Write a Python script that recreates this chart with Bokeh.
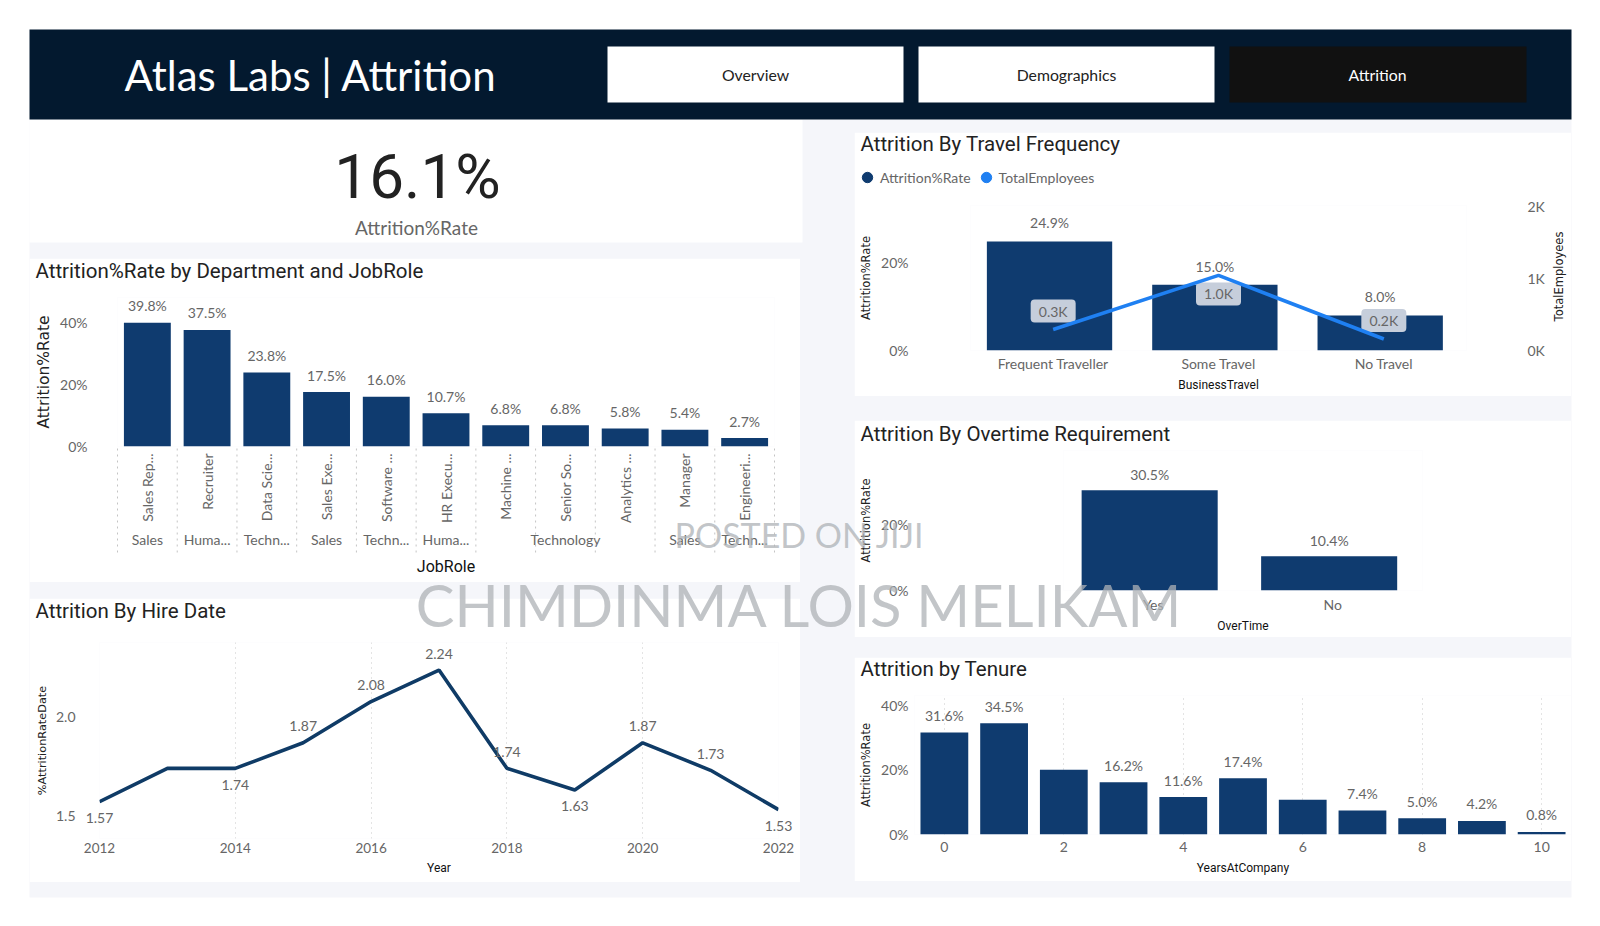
import math

from bokeh.embed import file_html
from bokeh.resources import INLINE
from bokeh.plotting import figure
from bokeh.layouts import column
from bokeh.core.properties import value
from bokeh.models import (ColumnDataSource, FactorRange, Range1d, LinearAxis, FixedTicker,
                          PrintfTickFormatter, Legend, LegendItem)
from bokeh.transform import dodge

# ---- data ----
dashboard_title = "Atlas Labs | Attrition"
nav_buttons = ["Overview", "Demographics", "Attrition"]
kpi_value = "16.1%"
kpi_label = "Attrition%Rate"
chart_titles = ["Attrition%Rate by Department and JobRole", "Attrition By Hire Date",
                "Attrition By Travel Frequency", "Attrition By Overtime Requirement", "Attrition by Tenure"]
legend_labels = ["Attrition%Rate", "TotalEmployees"]
right_axis_title = "TotalEmployees"

job_roles = ["Sales Rep...", "Recruiter", "Data Scie...", "Sales Exe...", "Software ...", "HR Execu...",
             "Machine ...", "Senior So...", "Analytics ...", "Manager", "Engineeri..."]
role_departments = ["Sales", "Huma...", "Techn...", "Sales", "Techn...", "Huma...",
                    "", "Technology", "", "Sales", "Techn..."]
role_rates = [39.8, 37.5, 23.8, 17.5, 16.0, 10.7, 6.8, 6.8, 5.8, 5.4, 2.7]
role_labels = ["39.8%", "37.5%", "23.8%", "17.5%", "16.0%", "10.7%", "6.8%", "6.8%", "5.8%", "5.4%", "2.7%"]

hire_years = [2012, 2013, 2014, 2015, 2016, 2017, 2018, 2019, 2020, 2021, 2022]
hire_rates = [1.57, 1.74, 1.74, 1.87, 2.08, 2.24, 1.74, 1.63, 1.87, 1.73, 1.53]
hire_labels = ["1.57", "", "1.74", "1.87", "2.08", "2.24", "1.74", "1.63", "1.87", "1.73", "1.53"]
hire_label_side = [1, 1, 1, -1, -1, -1, -1, 1, -1, -1, 1]

travel_types = ["Frequent Traveller", "Some Travel", "No Travel"]
travel_rates = [24.9, 15.0, 8.0]
travel_rate_labels = ["24.9%", "15.0%", "8.0%"]
travel_employees_k = [0.29, 1.04, 0.16]
travel_emp_labels = ["0.3K", "1.0K", "0.2K"]
travel_emp_side = [-1, 1, -1]

overtime_types = ["Yes", "No"]
overtime_rates = [30.5, 10.4]
overtime_labels = ["30.5%", "10.4%"]

tenure_years = [0, 1, 2, 3, 4, 5, 6, 7, 8, 9, 10]
tenure_rates = [31.6, 34.5, 20.1, 16.2, 11.6, 17.4, 10.8, 7.4, 5.0, 4.2, 0.8]
tenure_labels = ["31.6%", "34.5%", "", "16.2%", "11.6%", "17.4%", "", "7.4%", "5.0%", "4.2%", "0.8%"]

watermarks = ["POSTED ON JIJI", "CHIMDINMA LOIS MELIKAM"]

# ---- style ----
BAR = "#0f3b6f"
LINE = "#0f3b66"
BRIGHT = "#1f80f2"
TICK = "#666666"
DARK = "#222222"
PANEL = "#f5f6fa"
NAVY = "#03192f"
BODY = "Lato"
HEAD = "Roboto"
AXT = "DejaVu Sans"


def bare(fig):
    fig.frame_align = False
    fig.outline_line_color = None
    fig.grid.grid_line_color = None
    fig.xaxis.visible = False
    fig.yaxis.visible = False


def style_axis(ax, label_std=7):
    ax.axis_line_color = None
    ax.major_tick_line_color = None
    ax.minor_tick_line_color = None
    ax.major_tick_out = 0
    ax.major_label_text_color = TICK
    ax.major_label_text_font = BODY
    ax.major_label_text_font_size = "14px"
    ax.axis_label_text_font_style = "normal"
    ax.major_label_standoff = label_std


def chart(card, frame, x_range, y_range):
    cx0, cy0, cx1, cy1 = card
    fx0, fy0, fx1, fy1 = frame
    p = figure(width=cx1 - cx0, height=cy1 - cy0, x_range=x_range, y_range=y_range,
               output_backend="svg", toolbar_location=None,
               min_border_left=fx0 - cx0, min_border_right=cx1 - fx1,
               min_border_top=fy0 - cy0, min_border_bottom=cy1 - fy1)
    p.frame_align = False
    p.outline_line_color = None
    p.background_fill_color = "white"
    p.border_fill_color = "white"
    p.grid.grid_line_color = None
    return p


def y_title(ax, text, size, std):
    ax.axis_label = text
    ax.axis_label_text_font = AXT
    ax.axis_label_text_font_size = size
    ax.axis_label_text_color = DARK
    ax.axis_label_standoff = std


def x_title(ax, text, size, std):
    ax.axis_label = text
    ax.axis_label_text_font = HEAD
    ax.axis_label_text_font_size = size
    ax.axis_label_text_color = "#111111"
    ax.axis_label_standoff = std


def value_text(p, src, x, y, text, offset, **kw):
    return p.text(x=x, y=y, text=text, source=src, text_align="center", text_baseline="middle",
                  y_offset=offset, text_font=value(BODY), text_font_size=value("14px"), text_color=TICK,
                  level="annotation", **kw)


# ---- backdrop ----
bg = figure(width=1584, height=910, x_range=Range1d(8, 1592), y_range=Range1d(918, 8),
            output_backend="svg", toolbar_location=None, min_border=0)
bare(bg)
bg.background_fill_color = "white"
bg.border_fill_color = "white"
bg.quad(left=[29], right=[1571], top=[119], bottom=[897], color=PANEL, line_width=0)
bg.quad(left=[29], right=[802], top=[119], bottom=[242], color="white", line_width=0)
bg.quad(left=[29], right=[1571], top=[29], bottom=[119], color=NAVY, line_width=0)
bg.quad(left=[607, 918, 1229], right=[903, 1214, 1526], top=[46] * 3, bottom=[102] * 3,
        color=["white", "white", "#111111"], line_width=0)
bg.text(x=[755, 1066, 1377], y=[74] * 3, text=nav_buttons, text_align="center", text_baseline="middle",
        text_font=value(BODY), text_font_size=value("15.8px"), text_color=[DARK, DARK, "white"])
bg.text(x=[124], y=[74], text=[dashboard_title], text_baseline="middle", text_font=value(BODY),
        text_font_size=value("42px"), text_color="white")
bg.text(x=[417], y=[176], text=[kpi_value], text_align="center", text_baseline="middle", text_font=value(HEAD),
        text_font_size=value("62px"), text_color=DARK)
bg.text(x=[416], y=[227], text=[kpi_label], text_align="center", text_baseline="middle", text_font=value(BODY),
        text_font_size=value("19px"), text_color=TICK)

# ---- department / role ----
fr = (117, 297, 774, 446)
ppv = 3.108
d = chart((29, 258, 800, 582), fr, FactorRange(factors=job_roles), Range1d(0, (fr[3] - fr[1]) / ppv))
ds = ColumnDataSource(dict(role=job_roles, rate=role_rates, lab=role_labels, dept=role_departments,
                           dy=[-(539 - 446) / ppv] * 11))
d.vbar(x="role", top="rate", bottom=0, width=0.785, source=ds, color=BAR, line_width=0)
value_text(d, ds, "role", "rate", "lab", -17)
value_text(d, ds, "role", "dy", "dept", 0)
bounds = list(range(len(job_roles) + 1))
d.segment(x0=bounds, x1=bounds, y0=[-2 / ppv] * 12, y1=[-107 / ppv] * 12, line_color="#c4c4c4",
          line_dash="dotted", line_width=1, level="annotation")
style_axis(d.yaxis[0], 30)
d.yaxis[0].ticker = FixedTicker(ticks=[0, 20, 40])
d.yaxis[0].formatter = PrintfTickFormatter(format="%d%%")
y_title(d.yaxis[0], "Attrition%Rate", "15.5px", 4)
style_axis(d.xaxis[0], 7)
d.xaxis[0].major_label_orientation = math.pi / 2
x_title(d.xaxis[0], "JobRole", "16px", 31)

# ---- hire date ----
fr = (99, 642, 778, 838)
ppv = 196.5
h = chart((29, 598, 800, 882), fr, Range1d(2012, 2022),
          Range1d(1.5 - (fr[3] - 815) / ppv, 1.5 + (815 - fr[1]) / ppv))
hs = ColumnDataSource(dict(year=hire_years, rate=hire_rates, lab=hire_labels,
                           off=[s * 16.5 for s in hire_label_side]))
h.line("year", "rate", source=hs, line_color=LINE, line_width=3.6)
value_text(h, hs, "year", "rate", "lab", "off")
style_axis(h.yaxis[0], 24)
h.yaxis[0].ticker = FixedTicker(ticks=[1.5, 2.0])
h.yaxis[0].formatter = PrintfTickFormatter(format="%.1f")
y_title(h.yaxis[0], "%AttritionRateDate", "11.3px", 4)
style_axis(h.xaxis[0], 4)
h.xaxis[0].major_label_text_font_size = "13.5px"
h.xaxis[0].ticker = FixedTicker(ticks=[2012, 2014, 2016, 2018, 2020, 2022])
h.xaxis[0].formatter = PrintfTickFormatter(format="%d")
x_title(h.xaxis[0], "Year", "12px", 5)
h.xgrid.grid_line_color = "#c8c8c8"
h.xgrid.grid_line_dash = [1, 4]
h.xgrid[0].ticker = FixedTicker(ticks=[2012, 2014, 2016, 2018, 2020, 2022])

# ---- travel ----
fr = (970, 205, 1466, 350)
ppv = 4.378
ppk = 72.2
t = chart((854, 132, 1571, 396), fr, FactorRange(factors=travel_types), Range1d(0, (fr[3] - fr[1]) / ppv))
t.extra_y_ranges = {"emp": Range1d(0, (fr[3] - fr[1]) / ppk)}
ts = ColumnDataSource(dict(cat=travel_types, rate=travel_rates, lab=travel_rate_labels,
                           emp=travel_employees_k, elab=travel_emp_labels,
                           ebox=[e - s * 18.5 / ppk for e, s in zip(travel_employees_k, travel_emp_side)],
                           eoff=[s * 18.5 for s in travel_emp_side]))
bar_x = dodge("cat", -0.022, range=t.x_range)
t.vbar(x=bar_x, top="rate", bottom=0, width=0.758, source=ts, color=BAR, line_width=0)
t.rect(x="cat", y="ebox", width=45, height=23, width_units="screen", height_units="screen", source=ts,
       y_range_name="emp", fill_color="#c6cedb", line_width=0, border_radius=4, level="annotation")
t.line("cat", "emp", source=ts, y_range_name="emp", line_color=BRIGHT, line_width=3.6, level="annotation")
value_text(t, ts, bar_x, "rate", "lab", -18.5)
value_text(t, ts, "cat", "emp", "elab", "eoff", y_range_name="emp")
style_axis(t.yaxis[0], 62)
t.yaxis[0].ticker = FixedTicker(ticks=[0, 20])
t.yaxis[0].formatter = PrintfTickFormatter(format="%d%%")
y_title(t.yaxis[0], "Attrition%Rate", "11.5px", 5)
right = LinearAxis(y_range_name="emp", ticker=FixedTicker(ticks=[0, 1, 2]),
                   formatter=PrintfTickFormatter(format="%dK"))
style_axis(right, 61)
t.add_layout(right, "right")
style_axis(t.xaxis[0], 4)
x_title(t.xaxis[0], "BusinessTravel", "12px", 3)

# ---- legend strip ----
k = figure(width=250, height=30, x_range=Range1d(0, 1), y_range=Range1d(0, 1),
           output_backend="svg", toolbar_location=None, min_border=0)
bare(k)
k.background_fill_alpha = 0
k.border_fill_alpha = 0
key_a = k.circle(x=[-5], y=[-5], radius=0.001, color=BAR)
key_b = k.circle(x=[-5], y=[-5], radius=0.001, color=BRIGHT)
legend = Legend(items=[LegendItem(label=legend_labels[0], renderers=[key_a]),
                       LegendItem(label=legend_labels[1], renderers=[key_b])],
                orientation="horizontal", location="top_left", glyph_width=26, glyph_height=26,
                label_standoff=-10, spacing=2, padding=0, margin=0, background_fill_alpha=0,
                border_line_color=None, label_text_font=BODY, label_text_font_size="14px",
                label_text_color=TICK, label_height=14)
k.add_layout(legend)

# ---- overtime ----
fr = (1063, 450, 1422, 590)
ppv = 3.29
o = chart((854, 420, 1571, 637), fr, FactorRange(factors=overtime_types), Range1d(0, (fr[3] - fr[1]) / ppv))
os_ = ColumnDataSource(dict(cat=overtime_types, rate=overtime_rates, lab=overtime_labels))
over_x = dodge("cat", -0.02, range=o.x_range)
o.vbar(x=over_x, top="rate", bottom=0, width=0.758, source=os_, color=BAR, line_width=0)
value_text(o, os_, over_x, "rate", "lab", -16)
style_axis(o.yaxis[0], 155)
o.yaxis[0].ticker = FixedTicker(ticks=[0, 20])
o.yaxis[0].formatter = PrintfTickFormatter(format="%d%%")
y_title(o.yaxis[0], "Attrition%Rate", "11.5px", 5)
style_axis(o.xaxis[0], 5)
x_title(o.xaxis[0], "OverTime", "12px", 3)

# ---- tenure ----
fr = (914, 695, 1571, 834)
ppv = 3.227
n = chart((854, 657, 1571, 881), fr, Range1d(-0.5, 10.5), Range1d(0, (fr[3] - fr[1]) / ppv))
ns = ColumnDataSource(dict(year=tenure_years, rate=tenure_rates, lab=tenure_labels))
n.vbar(x="year", top="rate", bottom=0, width=0.8, source=ns, color=BAR, line_width=0)
value_text(n, ns, "year", "rate", "lab", -17)
style_axis(n.yaxis[0], 6)
n.yaxis[0].ticker = FixedTicker(ticks=[0, 20, 40])
n.yaxis[0].formatter = PrintfTickFormatter(format="%d%%")
y_title(n.yaxis[0], "Attrition%Rate", "11.5px", 5)
style_axis(n.xaxis[0], 7)
n.xaxis[0].ticker = FixedTicker(ticks=[0, 2, 4, 6, 8, 10])
n.xaxis[0].formatter = PrintfTickFormatter(format="%d")
x_title(n.xaxis[0], "YearsAtCompany", "12px", 6)
n.xgrid.grid_line_color = "#c8c8c8"
n.xgrid.grid_line_dash = [1, 4]
n.xgrid[0].ticker = FixedTicker(ticks=[0, 2, 4, 6, 8, 10])

# ---- top layer: chart titles, right axis title and watermark ----
wm = figure(width=1584, height=910, x_range=Range1d(8, 1592), y_range=Range1d(918, 8),
            output_backend="svg", toolbar_location=None, min_border=0)
bare(wm)
wm.background_fill_alpha = 0
wm.border_fill_alpha = 0
wm.text(x=[35, 35, 860, 860, 860], y=[270, 610, 143, 433, 668], text=chart_titles, text_baseline="middle",
        text_font=value(HEAD), text_font_size=value("20.5px"), text_color=DARK)
wm.text(x=[1558], y=[276], text=[right_axis_title], angle=math.pi / 2, text_align="center", text_baseline="middle",
        text_font=value(AXT), text_font_size=value("11.5px"), text_color=DARK)
wm.text(x=[799], y=[534], text=watermarks[:1], text_align="center", text_baseline="middle",
        text_font=value(BODY), text_font_size=value("34px"), text_color="#aeb2b6", text_alpha=0.75)
wm.text(x=[799], y=[604], text=watermarks[1:], text_align="center", text_baseline="middle",
        text_font=value(BODY), text_font_size=value("58px"), text_color="#aeb2b6", text_alpha=0.75)


def place(fig, x, y):
    fig.styles = {"position": "absolute", "left": f"{x}px", "top": f"{y}px"}
    return fig


page = column(place(bg, 8, 8), place(d, 29, 258), place(h, 29, 598), place(t, 854, 132),
              place(o, 854, 420), place(n, 854, 657), place(k, 854, 164), place(wm, 8, 8),
              width=1584, height=910, spacing=0)

open("out.html", "w").write(file_html(page, INLINE))
